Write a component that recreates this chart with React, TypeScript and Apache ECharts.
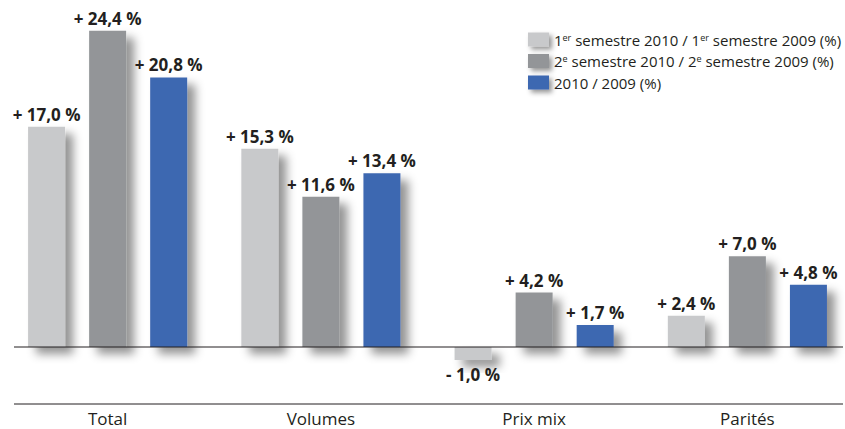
import React, { useEffect, useRef } from "react";
import * as echarts from "echarts";

const categories = ["Total", "Volumes", "Prix mix", "Parités"];
const firstHalf = [17.0, 15.3, -1.0, 2.4];
const secondHalf = [24.4, 11.6, 4.2, 7.0];
const fullYear = [20.8, 13.4, 1.7, 4.8];

const FONT = "'Open Sans', 'Noto Sans', sans-serif";
const fmt = (v: number) =>
  (v < 0 ? "- " : "+ ") + Math.abs(v).toFixed(1).replace(".", ",") + " %";

export default function App() {
  const ref = useRef<HTMLDivElement>(null);
  useEffect(() => {
    if (!ref.current) return;
    const chart = echarts.init(ref.current, undefined, { renderer: "svg" });
    const shadow = {
      shadowBlur: 10,
      shadowOffsetX: 8,
      shadowOffsetY: 7,
      shadowColor: "rgba(0,0,0,0.42)",
    };
    const mk = (name: string, data: number[], color: string) => ({
      name,
      type: "bar",
      data,
      barWidth: 37,
      barGap: "65%",
      itemStyle: { color, ...shadow },
      label: {
        show: true,
        position: "top",
        distance: 4,
        fontFamily: FONT,
        fontWeight: "bold",
        fontSize: 17,
        color: "#231f20",
        formatter: (p: any) => fmt(p.value),
      },
    });
    const s1: any = mk("s1", firstHalf, "#c8c9cb");
    s1.data = firstHalf.map((v) =>
      v < 0 ? { value: v, label: { position: "bottom", distance: 6 } } : v
    );
    chart.setOption({
      animation: false,
      grid: {
        left: 1,
        top: 10,
        right: -9,
        bottom: 25,
        outerBoundsMode: "none",
        containLabel: false,
      },
      legend: {
        orient: "vertical",
        left: 528,
        top: 32,
        padding: 0,
        itemWidth: 21,
        itemHeight: 14,
        itemGap: 5,
        icon: "rect",
        itemStyle: { ...shadow, shadowBlur: 5, shadowOffsetX: 3, shadowOffsetY: 3 },
        textStyle: {
          fontFamily: FONT,
          fontSize: 15,
          lineHeight: 14,
          color: "#231f20",
          rich: {
            t: { fontFamily: FONT, fontSize: 15, lineHeight: 14, color: "#231f20" },
            sup: {
              fontFamily: FONT,
              fontSize: 9,
              lineHeight: 14,
              color: "#231f20",
              verticalAlign: "top",
              padding: [0, 0, 7, 0],
            },
          },
        },
        formatter: (name: string) => {
          if (name === "s1")
            return "{t|1}{sup|er}{t| semestre 2010 / 1}{sup|er}{t| semestre 2009 (%)}";
          if (name === "s2")
            return "{t|2}{sup|e}{t| semestre 2010 / 2}{sup|e}{t| semestre 2009 (%)}";
          return "{t|2010 / 2009 (%)}";
        },
      },
      xAxis: {
        type: "category",
        data: categories,
        axisLine: { show: false },
        axisTick: { show: false },
        axisLabel: {
          fontFamily: FONT,
          fontSize: 17,
          color: "#231f20",
          margin: 6,
        },
      },
      yAxis: {
        type: "value",
        min: -4.4,
        max: 26,
        show: false,
        splitLine: { show: false },
      },
      graphic: [
        {
          type: "line",
          shape: { x1: 14, y1: 347, x2: 843, y2: 347 },
          style: { stroke: "#231f20", lineWidth: 1 },
          z: 10,
        },
        {
          type: "line",
          shape: { x1: 14, y1: 404, x2: 843, y2: 404 },
          style: { stroke: "#231f20", lineWidth: 1 },
        },
      ],
      series: [
        s1,
        mk("s2", secondHalf, "#939598"),
        mk("s3", fullYear, "#3d67b1"),
      ],
    });
    return () => chart.dispose();
  }, []);
  return (
    <div
      ref={ref}
      style={{ position: "absolute", left: 0, top: 0, width: 845, height: 429 }}
    />
  );
}
